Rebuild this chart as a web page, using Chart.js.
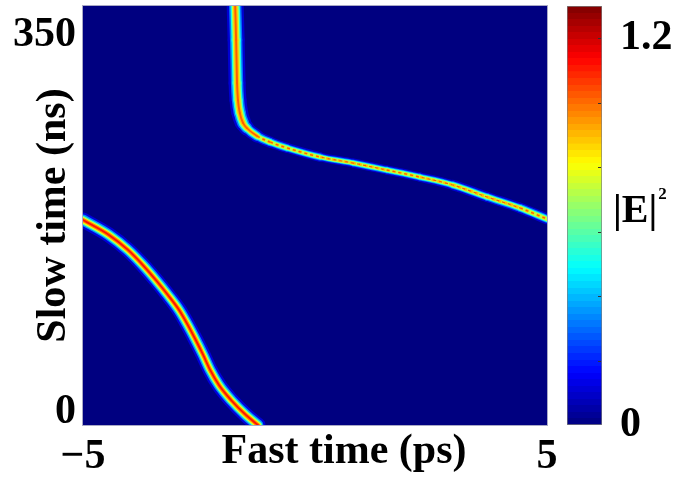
<!DOCTYPE html>
<html>
<head>
<meta charset="utf-8">
<script src="https://cdn.jsdelivr.net/npm/chart.js@4.4.1/dist/chart.umd.min.js"></script>
<style>
  html, body { margin: 0; padding: 0; background: #fff; }
  #wrap { position: relative; width: 675px; height: 482px; }
  #field { position: absolute; left: 0; top: 0; }
  #cbar { position: absolute; left: 540px; top: 0; }
</style>
</head>
<body>
<div id="wrap">
  <canvas id="field" width="560" height="482"></canvas>
  <canvas id="cbar" width="135" height="482"></canvas>
</div>
<script>
// axis ranges and ticks
const fastRange = [-5, 5];        // ps
const slowRange = [-12, 377];     // ns
const fastTicks = [-5, 5];
const slowTicks = [0, 350];
const intensityRange = [0, 1.3];  // |E|^2
const intensityTicks = [0, 0.2, 0.4, 0.6, 0.8, 1.0, 1.2];
const intensityLabels = ['0', '', '', '', '', '', '1.2'];

// pulse trajectories, [fast time (ps), slow time (ns)]
const pulseA = [
  [-5.00, 178.3], [-4.44, 164.4], [-4.03, 150.5], [-3.71, 136.5], [-3.43, 122.6],
  [-3.17, 108.7], [-2.93, 94.8], [-2.74, 80.8], [-2.57, 66.9], [-2.41, 53.0],
  [-2.26, 39.1], [-2.07, 25.1], [-1.81, 11.2], [-1.49, -2.7], [-1.23, -12.0]
];
const pulseB = [
  [-1.72, 377.0], [-1.70, 345.4], [-1.68, 305.5], [-1.66, 289.7], [-1.62, 277.7],
  [-1.55, 268.4], [-1.47, 263.7], [-1.25, 256.3], [-0.97, 250.7], [-0.60, 245.2],
  [0.11, 236.8], [0.82, 231.2], [1.55, 224.7], [2.26, 218.2], [2.97, 210.8],
  [3.71, 199.7], [4.42, 189.5], [5.00, 179.3]
];
// peak |E|^2 on each trajectory
const pulsePeaks = [1.15, 1.05];

const FONT = '"Liberation Serif", "Times New Roman", serif';
const bigFont = { family: FONT, size: 42, weight: 'bold' };

// matlab-style jet colormap
function jet(t) {
  const c = v => Math.round(255 * Math.max(0, Math.min(1, v)));
  return [c(1.5 - Math.abs(4 * t - 3)), c(1.5 - Math.abs(4 * t - 2)), c(1.5 - Math.abs(4 * t - 1))];
}
const jetCss = t => 'rgb(' + jet(t).join(',') + ')';

function jetGradient(ctx, area, bands) {
  const g = ctx.createLinearGradient(0, area.bottom, 0, area.top);
  for (let i = 0; i < bands; i++) {
    const col = jetCss((i + 0.5) / bands);
    g.addColorStop(i / bands, col);
    g.addColorStop(Math.min(1, (i + 1) / bands - 1e-4), col);
  }
  return g;
}

// a pulse is drawn as stacked strokes, one per intensity level of its profile
const layerLevels = [0.1, 0.3, 0.5, 0.7, 0.85, 0.97];

function slopeOf(c) {
  const dx = c.p1.x - c.p0.x, dy = c.p1.y - c.p0.y;
  return Math.abs(dy) / (Math.hypot(dx, dy) || 1);
}

function pulseDatasets(points, peak, wMax, wMin) {
  const spread = Math.sqrt(-Math.log(layerLevels[0]));
  return layerLevels.map((lvl, k) => {
    const frac = Math.sqrt(-Math.log(lvl)) / spread;
    const hot = lvl >= 0.85;
    return {
      data: points.map(([x, y]) => ({ x, y })),
      borderColor: jetCss(lvl * peak / intensityRange[1]),
      borderWidth: Math.max(1.2, wMax * frac),
      segment: {
        borderWidth: c => Math.max(1.2, (wMin + (wMax - wMin) * slopeOf(c)) * frac),
        // shallow stretches of a narrow pulse come out speckled on the grid
        borderDash: c => (hot && wMax !== wMin && slopeOf(c) < 0.45 ? [3, 3] : []),
        borderCapStyle: c => (hot && wMax !== wMin && slopeOf(c) < 0.45 ? 'butt' : 'round')
      },
      order: layerLevels.length - k,
      pointRadius: 0,
      cubicInterpolationMode: 'monotone',
      fill: false,
      clip: 0,
      borderCapStyle: 'round',
      borderJoinStyle: 'round'
    };
  });
}

const fieldPlugin = {
  id: 'fieldPlugin',
  beforeDatasetsDraw(chart) {
    const { ctx, chartArea: a } = chart;
    ctx.save();
    ctx.fillStyle = jetCss(0);
    ctx.fillRect(a.left, a.top, a.right - a.left, a.bottom - a.top);
    ctx.restore();
  },
  afterDraw(chart) {
    const { ctx, chartArea: a } = chart;
    ctx.save();
    ctx.strokeStyle = '#a9a9c6';
    ctx.lineWidth = 1;
    ctx.strokeRect(a.left - 0.5, a.top - 0.5, a.right - a.left + 1, a.bottom - a.top + 1);
    // x axis title sits on the tick-label row
    ctx.fillStyle = '#000';
    ctx.font = 'bold 42px ' + FONT;
    ctx.textAlign = 'center';
    ctx.textBaseline = 'middle';
    ctx.fillText('Fast time (ps)', (a.left + a.right) / 2 + 29, 452);
    ctx.restore();
  }
};

const noPad = s => {
  s.paddingTop = 0; s.paddingBottom = 0; s.paddingLeft = 0; s.paddingRight = 0;
};

new Chart(document.getElementById('field'), {
  type: 'line',
  data: {
    datasets: [
      ...pulseDatasets(pulseA, pulsePeaks[0], 15, 15),
      ...pulseDatasets(pulseB, pulsePeaks[1], 17, 7)
    ]
  },
  options: {
    responsive: false,
    animation: false,
    devicePixelRatio: 1,
    layout: { padding: { top: 6, right: 13, bottom: 0, left: 0 } },
    plugins: { legend: { display: false }, tooltip: { enabled: false } },
    scales: {
      x: {
        type: 'linear',
        min: fastRange[0],
        max: fastRange[1],
        afterBuildTicks: s => { s.ticks = fastTicks.map(v => ({ value: v })); },
        afterFit: s => { s.height = 57; noPad(s); },
        grid: { display: false, drawTicks: false },
        border: { display: false },
        ticks: {
          font: bigFont, color: '#000', padding: 7, maxRotation: 0, autoSkip: false,
          callback: v => (v < 0 ? '\u2212' + Math.abs(v) : String(v))
        }
      },
      y: {
        type: 'linear',
        min: slowRange[0],
        max: slowRange[1],
        afterBuildTicks: s => { s.ticks = slowTicks.map(v => ({ value: v })); },
        afterFit: s => { s.width = 83; noPad(s); },
        grid: { display: false, drawTicks: false },
        border: { display: false },
        ticks: { font: bigFont, color: '#000', padding: 7, autoSkip: false },
        title: { display: true, text: 'Slow time (ns)', font: bigFont, color: '#000', padding: { top: 29, bottom: 0 } }
      }
    }
  },
  plugins: [fieldPlugin]
});

const cbarPlugin = {
  id: 'cbarPlugin',
  afterDatasetsDraw(chart) {
    const { ctx, chartArea: a, scales: { y } } = chart;
    ctx.save();
    ctx.strokeStyle = '#333';
    ctx.lineWidth = 1;
    intensityTicks.forEach(v => {
      if (v <= intensityRange[0]) return;
      const py = Math.round(y.getPixelForValue(v)) + 0.5;
      ctx.beginPath();
      ctx.moveTo(a.right - 4, py);
      ctx.lineTo(a.right - 1, py);
      ctx.stroke();
    });
    ctx.restore();
  },
  afterDraw(chart) {
    const { ctx } = chart;
    ctx.save();
    ctx.fillStyle = '#000';
    ctx.textBaseline = 'alphabetic';
    ctx.font = 'bold 40px ' + FONT;
    ctx.fillText('|E|', 73, 222);
    const w = ctx.measureText('|E|').width;
    ctx.font = 'bold 17px ' + FONT;
    ctx.fillText('2', 73 + w + 1, 199);
    ctx.restore();
  }
};

new Chart(document.getElementById('cbar'), {
  type: 'bar',
  data: {
    labels: [''],
    datasets: [{
      data: [intensityRange],
      backgroundColor: c => {
        const a = c.chart.chartArea;
        return a ? jetGradient(c.chart.ctx, a, 64) : jetCss(0);
      },
      borderColor: '#7d7d7d',
      borderWidth: 1,
      borderSkipped: false,
      barPercentage: 1,
      categoryPercentage: 1
    }]
  },
  options: {
    responsive: false,
    animation: false,
    devicePixelRatio: 1,
    layout: { padding: { top: 6, right: 0, bottom: 57, left: 27 } },
    plugins: { legend: { display: false }, tooltip: { enabled: false } },
    scales: {
      x: { display: false },
      y: {
        position: 'right',
        min: intensityRange[0],
        max: intensityRange[1],
        afterBuildTicks: s => { s.ticks = intensityTicks.map(v => ({ value: v })); },
        afterFit: s => { s.width = 73; noPad(s); },
        grid: { display: false, drawTicks: false },
        border: { display: false },
        ticks: { font: bigFont, color: '#000', padding: 18, autoSkip: false, callback: (v, i) => intensityLabels[i] }
      }
    }
  },
  plugins: [cbarPlugin]
});
</script>
</body>
</html>
